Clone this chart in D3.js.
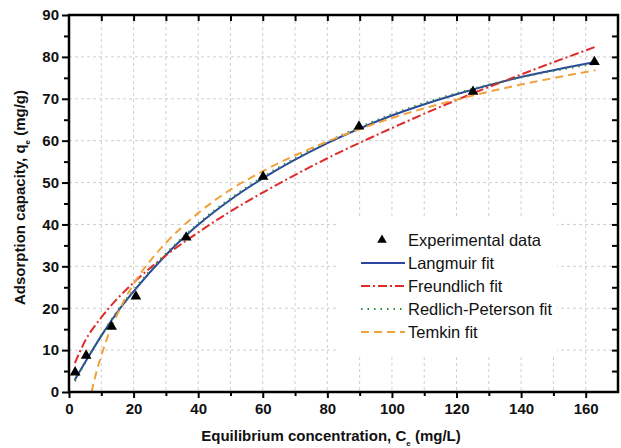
<!DOCTYPE html>
<html>
<head>
<meta charset="utf-8">
<script src="https://cdn.jsdelivr.net/npm/d3@7"></script>
<style>
  body { margin: 0; background: #fff; }
  svg { display: block; font-family: "Liberation Sans", Arial, sans-serif; }
</style>
</head>
<body>
<div id="chart"></div>
<script>
// Adsorption isotherm: experimental points plus four model fits
// values

const expCe = [1.9, 5.3, 13.2, 20.7, 36.3, 60.1, 89.8, 125.1, 162.7];
const expQe = [4.7, 8.7, 15.6, 22.8, 36.9, 51.4, 63.4, 71.7, 78.8];

const langCe = [1.8, 5, 10, 15, 20, 30, 40, 50, 60, 80, 100, 120, 140, 163];
const langQe = [2.9, 7.1, 13.4, 19.1, 24.0, 32.7, 39.9, 45.9, 51.0, 59.4, 66.0, 71.1, 75.2, 78.8];

const freuCe = [1.8, 5, 10, 15, 20, 30, 40, 50, 60, 80, 100, 120, 140, 163];
const freuQe = [6.9, 12.2, 17.8, 22.3, 26.1, 32.6, 38.1, 43.1, 47.6, 55.8, 63.0, 69.7, 75.8, 82.4];

const rpCe = [1.8, 5, 10, 15, 20, 30, 40, 50, 60, 80, 100, 120, 140, 163];
const rpQe = [2.6, 7.0, 13.5, 19.3, 24.3, 33.0, 40.2, 46.2, 51.3, 59.7, 66.3, 71.3, 75.1, 78.4];

const temCe = [7.0, 8, 10, 12, 15, 20, 25, 30, 40, 50, 60, 80, 100, 120, 140, 163];
const temQe = [0, 3.3, 8.7, 13.2, 18.6, 25.8, 31.2, 35.6, 42.7, 48.3, 52.7, 59.8, 65.4, 69.8, 73.4, 76.8];

const xTicks = [0, 20, 40, 60, 80, 100, 120, 140, 160];
const yTicks = [0, 10, 20, 30, 40, 50, 60, 70, 80, 90];

const series = [
  { name: "Langmuir fit", ce: langCe, qe: langQe, color: "#2b46a0", dash: null, width: 2 },
  { name: "Freundlich fit", ce: freuCe, qe: freuQe, color: "#dd2a2a", dash: "9,3,2,3", width: 2 },
  { name: "Redlich-Peterson fit", ce: rpCe, qe: rpQe, color: "#2f8a3c", dash: "1.5,5", width: 2.2 },
  { name: "Temkin fit", ce: temCe, qe: temQe, color: "#f0a23c", dash: "8,5", width: 2 }
];

const width = 621, height = 448;
const margin = { top: 15, right: 3, bottom: 56, left: 69 };
const innerWidth = width - margin.left - margin.right;
const innerHeight = height - margin.top - margin.bottom;

const svg = d3.select("#chart").append("svg")
  .attr("width", width)
  .attr("height", height);

const g = svg.append("g")
  .attr("transform", `translate(${margin.left},${margin.top})`);

const x = d3.scaleLinear().domain([0, 170]).range([0, innerWidth]);
const y = d3.scaleLinear().domain([0, 90]).range([innerHeight, 0]);

// grid
g.append("g")
  .selectAll("line")
  .data(d3.range(10, 170, 10))
  .join("line")
  .attr("x1", d => x(d)).attr("x2", d => x(d))
  .attr("y1", 0).attr("y2", innerHeight)
  .attr("stroke", "#cfcfcf")
  .attr("stroke-dasharray", "3,3");

g.append("g")
  .selectAll("line")
  .data(d3.range(10, 90, 10))
  .join("line")
  .attr("x1", 0).attr("x2", innerWidth)
  .attr("y1", d => y(d)).attr("y2", d => y(d))
  .attr("stroke", "#cfcfcf")
  .attr("stroke-dasharray", "3,3");

// white legend box hides the grid behind it
svg.append("rect")
  .attr("x", 337).attr("y", 216)
  .attr("width", 220).attr("height", 139)
  .attr("fill", "#fff");

// fit curves
const line = d3.line().curve(d3.curveMonotoneX);

series.forEach(s => {
  g.append("path")
    .datum(s.ce.map((c, i) => [x(c), y(s.qe[i])]))
    .attr("fill", "none")
    .attr("stroke", s.color)
    .attr("stroke-width", s.width)
    .attr("stroke-dasharray", s.dash)
    .attr("d", line);
});

// experimental points
const tri = d3.symbol().type(d3.symbolTriangle).size(50);
g.selectAll(".pt")
  .data(expCe.map((c, i) => [c, expQe[i]]))
  .join("path")
  .attr("class", "pt")
  .attr("transform", d => `translate(${x(d[0])},${y(d[1])})`)
  .attr("d", tri)
  .attr("fill", "#000");

// axes
const fontStyle = sel => sel.selectAll("text")
  .style("font-size", "15px")
  .style("font-weight", "bold")
  .style("fill", "#111");

// minor tick helper: ticks only, no labels
const minor = (sel, axis) => sel.call(axis.tickFormat(""))
  .call(a => a.select(".domain").remove())
  .call(a => a.selectAll("text").remove())
  .call(a => a.selectAll("line").attr("stroke-width", 2));

g.append("g")
  .attr("transform", `translate(0,${innerHeight})`)
  .call(d3.axisBottom(x).tickValues(xTicks).tickSize(6).tickPadding(5))
  .call(a => a.select(".domain").remove())
  .call(fontStyle)
  .call(a => a.selectAll("line").attr("stroke-width", 2));

g.append("g")
  .attr("transform", `translate(0,${innerHeight})`)
  .call(minor, d3.axisBottom(x).tickValues(d3.range(10, 170, 20)).tickSize(4));

g.append("g")
  .call(d3.axisLeft(y).tickValues(yTicks).tickSize(7).tickPadding(3))
  .call(a => a.select(".domain").remove())
  .call(fontStyle)
  .call(a => a.selectAll("line").attr("stroke-width", 2));

g.append("g")
  .call(minor, d3.axisLeft(y).tickValues(d3.range(5, 90, 10)).tickSize(5));

// inward ticks on top and right
g.append("g")
  .call(minor, d3.axisBottom(x).tickValues(d3.range(10, 170, 10)).tickSize(6));

g.append("g")
  .attr("transform", `translate(${innerWidth},0)`)
  .call(minor, d3.axisLeft(y).tickValues(d3.range(5, 90, 5)).tickSize(6));

// frame
g.append("rect")
  .attr("width", innerWidth)
  .attr("height", innerHeight)
  .attr("fill", "none")
  .attr("stroke", "#000")
  .attr("stroke-width", 2.5);

// axis titles
const xt = svg.append("text")
  .attr("x", 331)
  .attr("y", 441)
  .attr("text-anchor", "middle")
  .style("font-size", "15px")
  .style("font-weight", "bold")
  .style("fill", "#111");
xt.append("tspan").text("Equilibrium concentration, C");
xt.append("tspan").attr("baseline-shift", "sub").style("font-size", "8px").text("e");
xt.append("tspan").text(" (mg/L)");

const yt = svg.append("text")
  .attr("transform", `translate(25,${margin.top + innerHeight / 2 - 6}) rotate(-90)`)
  .attr("text-anchor", "middle")
  .style("font-size", "15px")
  .style("font-weight", "bold")
  .style("fill", "#111");
yt.append("tspan").text("Adsorption capacity, q");
yt.append("tspan").attr("baseline-shift", "sub").style("font-size", "8px").text("e");
yt.append("tspan").text(" (mg/g)");

// legend
const lg = svg.append("g").attr("transform", "translate(361,240)");
const rowH = 23;

lg.append("path")
  .attr("transform", "translate(21,0)")
  .attr("d", d3.symbol().type(d3.symbolTriangle).size(40))
  .attr("fill", "#000");
lg.append("text")
  .attr("x", 47).attr("y", 0).attr("dy", "0.36em")
  .style("font-size", "16.5px")
  .style("fill", "#111")
  .text("Experimental data");

series.forEach((s, i) => {
  const yy = (i + 1) * rowH;
  lg.append("line")
    .attr("x1", 0).attr("x2", 44)
    .attr("y1", yy).attr("y2", yy)
    .attr("stroke", s.color)
    .attr("stroke-width", s.width)
    .attr("stroke-dasharray", s.dash);
  lg.append("text")
    .attr("x", 47).attr("y", yy).attr("dy", "0.36em")
    .style("font-size", "16.5px")
    .style("fill", "#111")
    .text(s.name);
});
</script>
</body>
</html>
